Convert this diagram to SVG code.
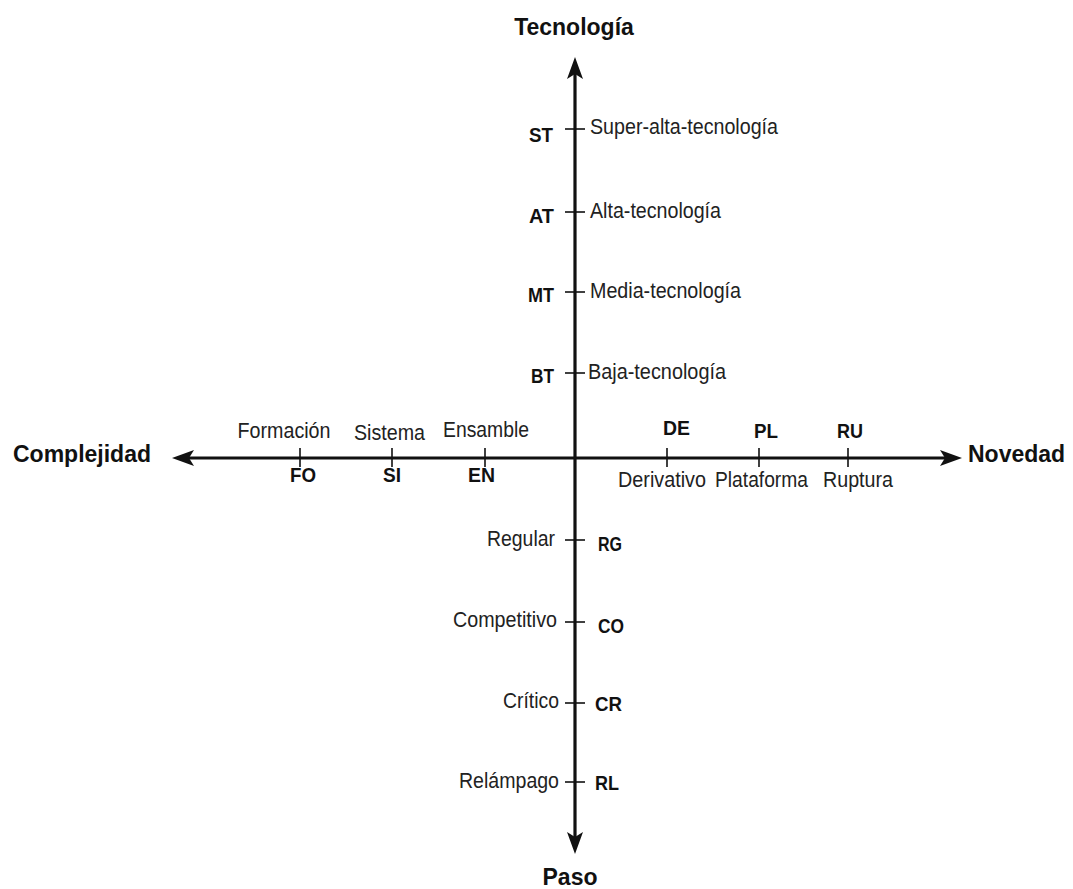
<svg xmlns="http://www.w3.org/2000/svg" width="1073" height="889" viewBox="0 0 1073 889">
  <style>
    .axis { stroke: #111; stroke-width: 3.2; fill: none; }
    .tick { stroke: #111; stroke-width: 1.6; }
    .lab { font-family: "Liberation Sans", Arial, sans-serif; font-size: 22px; fill: #222; }
    .code { font-family: "Liberation Sans", Arial, sans-serif; font-size: 21px; font-weight: bold; fill: #111; }
    .title { font-family: "Liberation Sans", Arial, sans-serif; font-size: 23px; font-weight: bold; fill: #111; }
  </style>
  <defs>
    <marker id="arrow" markerUnits="userSpaceOnUse" viewBox="0 0 22 16" markerWidth="22" markerHeight="16" refX="7" refY="8" orient="auto-start-reverse">
      <path d="M0,0 L22,8 L0,16 L5,8 Z" fill="#111"/>
    </marker>
  </defs>
  <rect width="1073" height="889" fill="#fff"/>

  <!-- axes -->
  <g id="connectors">
    <line class="axis" x1="575" y1="72" x2="575" y2="839" marker-start="url(#arrow)" marker-end="url(#arrow)"/>
    <line class="axis" x1="187" y1="458" x2="947" y2="458" marker-start="url(#arrow)" marker-end="url(#arrow)"/>
  </g>

  <!-- axis titles -->
  <g id="axis-tecnologia"><text class="title" x="574" y="35" text-anchor="middle">Tecnología</text></g>
  <g id="axis-paso"><text class="title" x="570" y="885" text-anchor="middle">Paso</text></g>
  <g id="axis-complejidad"><text class="title" x="13" y="462">Complejidad</text></g>
  <g id="axis-novedad"><text class="title" x="968" y="462">Novedad</text></g>

  <!-- technology levels -->
  <g id="node-ST">
    <line class="tick" x1="565" y1="129" x2="585" y2="129"/>
    <text class="code" x="529" y="142" textLength="24" lengthAdjust="spacingAndGlyphs">ST</text>
    <text class="lab" x="590" y="134" textLength="188" lengthAdjust="spacingAndGlyphs">Super-alta-tecnología</text>
  </g>
  <g id="node-AT">
    <line class="tick" x1="565" y1="212" x2="585" y2="212"/>
    <text class="code" x="529" y="223" textLength="25" lengthAdjust="spacingAndGlyphs">AT</text>
    <text class="lab" x="590" y="218" textLength="131" lengthAdjust="spacingAndGlyphs">Alta-tecnología</text>
  </g>
  <g id="node-MT">
    <line class="tick" x1="565" y1="292" x2="585" y2="292"/>
    <text class="code" x="528" y="302" textLength="26" lengthAdjust="spacingAndGlyphs">MT</text>
    <text class="lab" x="590" y="298" textLength="151" lengthAdjust="spacingAndGlyphs">Media-tecnología</text>
  </g>
  <g id="node-BT">
    <line class="tick" x1="565" y1="373" x2="585" y2="373"/>
    <text class="code" x="531" y="383" textLength="23" lengthAdjust="spacingAndGlyphs">BT</text>
    <text class="lab" x="588" y="379" textLength="138" lengthAdjust="spacingAndGlyphs">Baja-tecnología</text>
  </g>

  <!-- complexity levels -->
  <g id="node-FO">
    <line class="tick" x1="300" y1="448" x2="300" y2="467"/>
    <text class="lab" x="237.5" y="438" textLength="93" lengthAdjust="spacingAndGlyphs">Formación</text>
    <text class="code" x="290" y="482" textLength="26" lengthAdjust="spacingAndGlyphs">FO</text>
  </g>
  <g id="node-SI">
    <line class="tick" x1="392" y1="448" x2="392" y2="467"/>
    <text class="lab" x="354" y="440" textLength="71" lengthAdjust="spacingAndGlyphs">Sistema</text>
    <text class="code" x="383" y="482" textLength="18" lengthAdjust="spacingAndGlyphs">SI</text>
  </g>
  <g id="node-EN">
    <line class="tick" x1="485" y1="448" x2="485" y2="467"/>
    <text class="lab" x="443" y="437" textLength="86" lengthAdjust="spacingAndGlyphs">Ensamble</text>
    <text class="code" x="468" y="482" textLength="27" lengthAdjust="spacingAndGlyphs">EN</text>
  </g>

  <!-- novelty levels -->
  <g id="node-DE">
    <line class="tick" x1="667" y1="448" x2="667" y2="467"/>
    <text class="code" x="663" y="435" textLength="27" lengthAdjust="spacingAndGlyphs">DE</text>
    <text class="lab" x="618" y="487" textLength="88" lengthAdjust="spacingAndGlyphs">Derivativo</text>
  </g>
  <g id="node-PL">
    <line class="tick" x1="759" y1="448" x2="759" y2="467"/>
    <text class="code" x="754" y="438" textLength="24" lengthAdjust="spacingAndGlyphs">PL</text>
    <text class="lab" x="715" y="487" textLength="93" lengthAdjust="spacingAndGlyphs">Plataforma</text>
  </g>
  <g id="node-RU">
    <line class="tick" x1="848" y1="448" x2="848" y2="467"/>
    <text class="code" x="837" y="438" textLength="26" lengthAdjust="spacingAndGlyphs">RU</text>
    <text class="lab" x="823" y="487" textLength="70" lengthAdjust="spacingAndGlyphs">Ruptura</text>
  </g>

  <!-- pace levels -->
  <g id="node-RG">
    <line class="tick" x1="565" y1="540" x2="585" y2="540"/>
    <text class="lab" x="487" y="546" textLength="68" lengthAdjust="spacingAndGlyphs">Regular</text>
    <text class="code" x="598" y="551" textLength="24" lengthAdjust="spacingAndGlyphs">RG</text>
  </g>
  <g id="node-CO">
    <line class="tick" x1="565" y1="622" x2="585" y2="622"/>
    <text class="lab" x="453" y="627" textLength="104" lengthAdjust="spacingAndGlyphs">Competitivo</text>
    <text class="code" x="598" y="633" textLength="26" lengthAdjust="spacingAndGlyphs">CO</text>
  </g>
  <g id="node-CR">
    <line class="tick" x1="565" y1="703" x2="585" y2="703"/>
    <text class="lab" x="503" y="708" textLength="56" lengthAdjust="spacingAndGlyphs">Crítico</text>
    <text class="code" x="595" y="711" textLength="27" lengthAdjust="spacingAndGlyphs">CR</text>
  </g>
  <g id="node-RL">
    <line class="tick" x1="565" y1="782" x2="585" y2="782"/>
    <text class="lab" x="459" y="788" textLength="100" lengthAdjust="spacingAndGlyphs">Relámpago</text>
    <text class="code" x="595" y="790" textLength="24" lengthAdjust="spacingAndGlyphs">RL</text>
  </g>
</svg>
